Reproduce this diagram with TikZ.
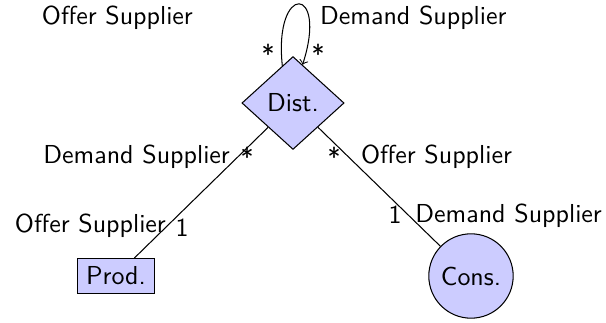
\documentclass[tikz,border=0pt]{standalone}
\usetikzlibrary{shapes.geometric}
\begin{document}
\begin{tikzpicture}[x=0.385pt,y=-0.385pt,
  font=\sffamily,
  entity/.style={draw, fill=blue!20},
  role/.style={inner sep=1pt},
  mult/.style={inner sep=1pt}]
\useasboundingbox (0,0) rectangle (606,323);
% entities
\node[entity, diamond, aspect=1.1, inner sep=2.8pt] (dist) at (293,103) {Dist.};
\node[entity, rectangle, inner sep=3.2pt] (prod) at (116,276) {Prod.};
\node[entity, circle, inner sep=3.2pt] (cons) at (471,276) {Cons.};
% associations
\draw (dist) -- (prod);
\draw (dist) -- (cons);
\draw[->] (dist.106) .. controls +(-96:84) and +(-72:84) .. (dist.76);
% role names and multiplicities, self association
\node[role, anchor=east] (selfoffer) at (196,18) {Offer Supplier};
\node[role, anchor=west] (selfdemand) at (317,18) {Demand Supplier};
\node[mult] (selfm1) at (268,54) {*};
\node[mult] (selfm2) at (318,54) {*};
% Dist -- Prod
\node[role, anchor=east] (dpdem) at (233,157) {Demand Supplier};
\node[mult] (dpm1) at (247,157) {*};
\node[role, anchor=east] (dpoff) at (169,226) {Offer Supplier};
\node[mult] (dpm2) at (182,228) {1};
% Dist -- Cons
\node[mult] (dcm1) at (334,157) {*};
\node[role, anchor=west] (dcoff) at (358,157) {Offer Supplier};
\node[mult] (dcm2) at (395,215) {1};
\node[role, anchor=east] (dcdem) at (605,216) {Demand Supplier};
\end{tikzpicture}
\end{document}
